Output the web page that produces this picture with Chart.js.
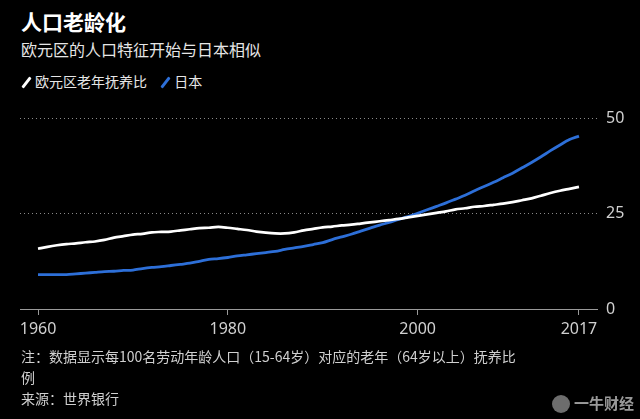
<!DOCTYPE html>
<html>
<head>
<meta charset="utf-8">
<script src="https://cdn.jsdelivr.net/npm/chart.js@4/dist/chart.umd.min.js"></script>
<style>
  html, body { margin: 0; padding: 0; background: #000; }
  body { width: 640px; height: 419px; position: relative; overflow: hidden;
         font-family: "Noto Sans CJK SC", "Noto Sans", sans-serif; color: #fff; }
  .title { position: absolute; left: 21px; top: 6px; font-size: 21px; font-weight: bold; }
  .subtitle { position: absolute; left: 21px; top: 37px; font-size: 16px; color: #e6e6e6; }
  .legend { position: absolute; left: 21px; top: 71px; font-size: 14px; color: #e6e6e6; }
  .legend span.item { margin-right: 10px; }
  .slash { display: inline-block; width: 3px; height: 13px; border-radius: 1px;
           transform: rotate(38deg); margin: 0 7px -2px 4px; }
  .chart-box { position: absolute; left: 0; top: 92px; width: 640px; height: 257px; }
  .note { position: absolute; left: 21px; top: 346px; font-size: 14px; line-height: 21px; color: #d0d0d0; }
  .mark { position: absolute; right: 6px; top: 392px; font-size: 15px; font-weight: bold; color: #9a9a9a; }
  .mark i { display: inline-block; width: 18px; height: 18px; border-radius: 50%;
            background: #6d6d6d; vertical-align: -4px; margin-right: 4px; }
</style>
</head>
<body>
<div class="title">人口老龄化</div>
<div class="subtitle">欧元区的人口特征开始与日本相似</div>
<div class="legend">
  <span class="item"><span class="slash" style="background:#fff"></span>欧元区老年抚养比</span>
  <span class="item"><span class="slash" style="background:#2d6fd8"></span>日本</span>
</div>
<div class="chart-box"><canvas id="agingChart"></canvas></div>
<div class="note">注：数据显示每100名劳动年龄人口（15-64岁）对应的老年（64岁以上）抚养比<br>例<br>来源：世界银行</div>
<div class="mark"><i></i>一牛财经</div>

<script>
/* years 1960-2017 */
const years = [];
for (let y = 1960; y <= 2017; y++) years.push(y);

const xTickYears = [1960, 1980, 2000, 2017];
const yTickValues = [0, 25, 50];

// Euro area old-age dependency ratio
const euroValues = [
  15.8, 16.3, 16.7, 17.0, 17.2, 17.5, 17.7, 18.1, 18.7, 19.1,
  19.5, 19.7, 20.1, 20.2, 20.3, 20.6, 20.9, 21.2, 21.3, 21.5,
  21.3, 21.0, 20.7, 20.3, 20.0, 19.8, 19.8, 20.1, 20.6, 21.0,
  21.4, 21.6, 21.9, 22.1, 22.4, 22.7, 23.0, 23.3, 23.6, 24.0,
  24.4, 24.8, 25.2, 25.6, 26.1, 26.4, 26.8, 27.0, 27.3, 27.6,
  28.0, 28.5, 29.0, 29.7, 30.4, 31.0, 31.5, 32.0
];

// Japan
const japanValues = [
  9.0, 9.0, 9.0, 9.0, 9.2, 9.4, 9.6, 9.8, 9.9, 10.1,
  10.2, 10.6, 10.9, 11.1, 11.4, 11.7, 12.0, 12.5, 13.0, 13.2,
  13.5, 13.9, 14.2, 14.5, 14.8, 15.1, 15.6, 16.0, 16.4, 16.9,
  17.4, 18.2, 18.9, 19.6, 20.4, 21.2, 22.0, 22.7, 23.5, 24.2,
  25.1, 26.0, 26.9, 27.8, 28.8, 29.8, 31.0, 32.1, 33.2, 34.4,
  35.6, 37.0, 38.4, 39.9, 41.5, 43.0, 44.4, 45.3
];

const tickFont = { family: "'Liberation Sans Narrow', 'Noto Sans', sans-serif", size: 16 };

new Chart(document.getElementById('agingChart'), {
  type: 'line',
  data: {
    datasets: [{
      label: '欧元区老年抚养比',
      data: years.map((y, i) => ({ x: y, y: euroValues[i] })),
      borderColor: '#ffffff',
      borderWidth: 2.7,
      pointRadius: 0,
      tension: 0.3
    }, {
      label: '日本',
      data: years.map((y, i) => ({ x: y, y: japanValues[i] })),
      borderColor: '#2d6fd8',
      borderWidth: 2.8,
      pointRadius: 0,
      tension: 0.3
    }]
  },
  options: {
    responsive: true,
    maintainAspectRatio: false,
    animation: false,
    layout: { padding: { left: 20, top: 0, right: 0, bottom: 0 } },
    plugins: { legend: { display: false }, tooltip: { enabled: false } },
    scales: {
      x: {
        type: 'linear',
        min: 1958.1,
        max: 2018.9,
        afterBuildTicks: (scale) => { scale.ticks = xTickYears.map(v => ({ value: v })); },
        afterFit: (scale) => { scale.height = 40; },
        grid: { drawOnChartArea: false, drawTicks: true, tickLength: 6, color: '#9a9a9a' },
        border: { display: true, color: '#9a9a9a', width: 1 },
        ticks: {
          color: '#d0d0d0', font: tickFont, padding: 5,
          maxRotation: 0, autoSkip: false,
          callback: (v) => String(v)
        }
      },
      y: {
        position: 'right',
        min: 0,
        max: 52,
        afterBuildTicks: (scale) => { scale.ticks = yTickValues.map(v => ({ value: v })); },
        afterFit: (scale) => { scale.width = 43; },
        grid: {
          drawTicks: false,
          color: (ctx) => ctx.tick && ctx.tick.value === 0 ? 'rgba(0,0,0,0)' : '#8a8a8a',
          lineWidth: 1
        },
        border: { display: false, dash: [1, 3] },
        ticks: { color: '#d0d0d0', font: tickFont, padding: 9 }
      }
    }
  }
});
</script>
</body>
</html>
